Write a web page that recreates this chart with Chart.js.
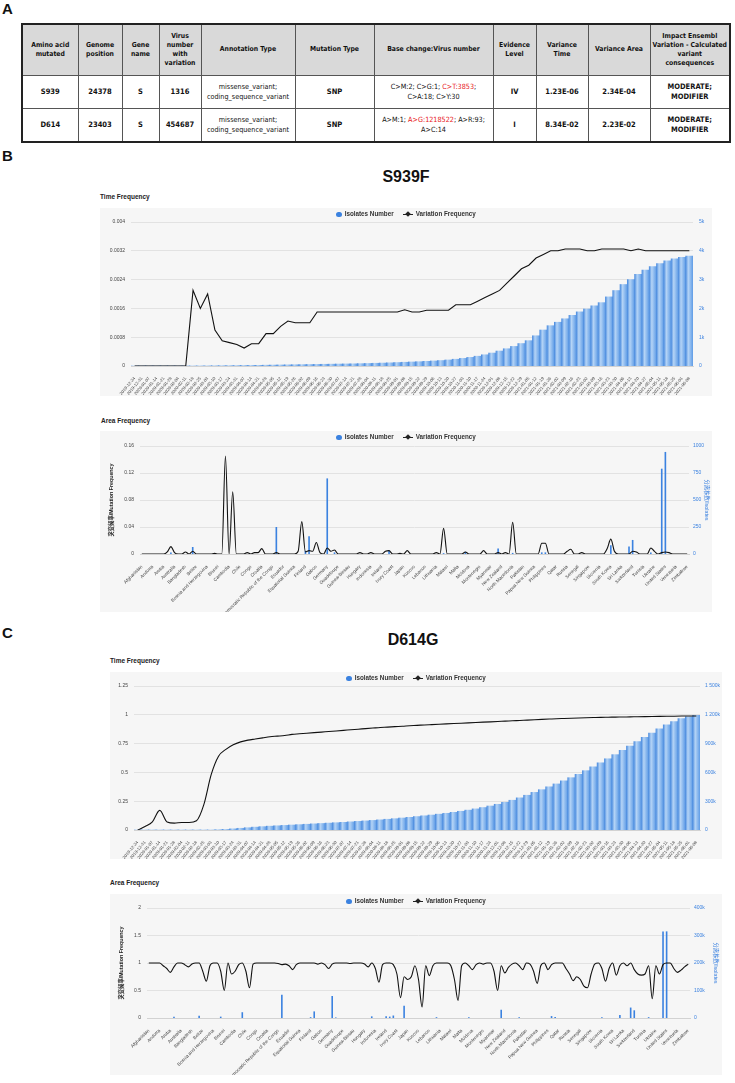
<!DOCTYPE html>
<html>
<head>
<meta charset="utf-8">
<script src="https://cdn.jsdelivr.net/npm/chart.js@4.4.1/dist/chart.umd.min.js"></script>
<style>
  html,body{margin:0;padding:0;background:#fff;}
  body{width:735px;height:1083px;position:relative;overflow:hidden;font-family:'Liberation Sans',Arial,sans-serif;}
  .panel{position:absolute;font-weight:bold;font-size:15px;color:#111;font-family:'Liberation Sans',Arial,sans-serif;}
  .mut{position:absolute;font-weight:bold;font-size:16px;color:#111;font-family:'Liberation Sans',Arial,sans-serif;text-align:center;width:200px;}
  .sub{position:absolute;font-weight:bold;font-size:6.5px;color:#222;}
  .box{position:absolute;background:#f6f6f6;}
  .legend{position:absolute;text-align:center;font-size:6.3px;font-weight:bold;color:#333;white-space:nowrap;}
  .legend .dot{display:inline-block;width:5.5px;height:5.5px;border-radius:50%;background:#3b82e0;vertical-align:middle;margin-right:3px;}
  .legend .ln{display:inline-block;width:10px;height:1.2px;background:#222;vertical-align:middle;margin:0 3px 0 9px;position:relative;}
  .legend .ln i{position:absolute;left:3px;top:-1.4px;width:4px;height:4px;background:#222;transform:rotate(45deg);}
  table.t{position:absolute;left:21px;top:23px;border-collapse:collapse;border:2px solid #222;table-layout:fixed;
    font-family:'Liberation Sans Narrow','DejaVu Sans Condensed','Liberation Sans',Arial,sans-serif;color:#111;}
  table.t td{border:1px solid #555;text-align:center;vertical-align:middle;padding:0;line-height:1.35;}
  table.t tr.h td{background:#d9d9d9;font-weight:bold;font-size:6.8px;height:50px;}
  table.t tr.r td{font-size:7.5px;height:32px;font-weight:bold;}
  table.t tr.r td.n{font-weight:normal;font-size:7.2px;}
  .red{color:#e8161b;}
</style>
</head>
<body>
<div class="panel" style="left:2px;top:0px;">A</div>
<table class="t">
  <colgroup>
    <col style="width:56px"><col style="width:44px"><col style="width:37px"><col style="width:42px"><col style="width:94px"><col style="width:79px"><col style="width:119px"><col style="width:43px"><col style="width:52px"><col style="width:62px"><col style="width:80px">
  </colgroup>
  <tr class="h">
    <td>Amino acid<br>mutated</td><td>Genome<br>position</td><td>Gene<br>name</td><td>Virus<br>number<br>with<br>variation</td><td>Annotation Type</td><td>Mutation Type</td><td>Base change:Virus number</td><td>Evidence<br>Level</td><td>Variance<br>Time</td><td>Variance Area</td><td>Impact Ensembl<br>Variation - Calculated<br>variant<br>consequences</td>
  </tr>
  <tr class="r">
    <td>S939</td><td>24378</td><td>S</td><td>1316</td><td class="n">missense_variant;<br>coding_sequence_variant</td><td>SNP</td><td class="n">C&gt;M:2; C&gt;G:1; <span class="red">C&gt;T:3853</span>;<br>C&gt;A:18; C&gt;Y:30</td><td>IV</td><td>1.23E-06</td><td>2.34E-04</td><td>MODERATE;<br>MODIFIER</td>
  </tr>
  <tr class="r">
    <td>D614</td><td>23403</td><td>S</td><td>454687</td><td class="n">missense_variant;<br>coding_sequence_variant</td><td>SNP</td><td class="n">A&gt;M:1; <span class="red">A&gt;G:1218522</span>; A&gt;R:93;<br>A&gt;C:14</td><td>I</td><td>8.34E-02</td><td>2.23E-02</td><td>MODERATE;<br>MODIFIER</td>
  </tr>
</table>

<div class="panel" style="left:2px;top:147px;">B</div>
<div class="mut" style="left:306px;top:168px;">S939F</div>
<div class="sub" style="left:100px;top:193px;">Time Frequency</div>
<div class="box" style="left:100px;top:208px;width:612px;height:188px;"><canvas id="c1" width="612" height="188"></canvas></div>
<div class="legend" style="left:100px;top:210px;width:612px;"><span class="dot"></span>Isolates Number<span class="ln"><i></i></span>Variation Frequency</div>

<div class="sub" style="left:101px;top:417px;">Area Frequency</div>
<div class="box" style="left:100px;top:431px;width:612px;height:181px;"><canvas id="c2" width="612" height="181"></canvas></div>
<div class="legend" style="left:100px;top:433px;width:612px;"><span class="dot"></span>Isolates Number<span class="ln"><i></i></span>Variation Frequency</div>

<div class="panel" style="left:2px;top:624px;">C</div>
<div class="mut" style="left:313px;top:631px;">D614G</div>
<div class="sub" style="left:110px;top:657px;">Time Frequency</div>
<div class="box" style="left:110px;top:672px;width:612px;height:187px;"><canvas id="c3" width="612" height="187"></canvas></div>
<div class="legend" style="left:110px;top:674px;width:612px;"><span class="dot"></span>Isolates Number<span class="ln"><i></i></span>Variation Frequency</div>

<div class="sub" style="left:110px;top:879px;">Area Frequency</div>
<div class="box" style="left:110px;top:894px;width:612px;height:181px;"><canvas id="c4" width="612" height="181"></canvas></div>
<div class="legend" style="left:110px;top:897px;width:612px;"><span class="dot"></span>Isolates Number<span class="ln"><i></i></span>Variation Frequency</div>

<script>
// ---------------- DATA ----------------
const timeLabels = [
 "2019-12-24","2019-12-31","2020-01-07","2020-01-14","2020-01-21","2020-01-28","2020-02-04","2020-02-11","2020-02-18","2020-02-25",
 "2020-03-03","2020-03-10","2020-03-17","2020-03-24","2020-03-31","2020-04-07","2020-04-14","2020-04-21","2020-04-28","2020-05-05",
 "2020-05-12","2020-05-19","2020-05-26","2020-06-02","2020-06-09","2020-06-16","2020-06-23","2020-06-30","2020-07-07","2020-07-14",
 "2020-07-21","2020-07-28","2020-08-04","2020-08-11","2020-08-18","2020-08-25","2020-09-01","2020-09-08","2020-09-15","2020-09-22",
 "2020-09-29","2020-10-06","2020-10-13","2020-10-20","2020-10-27","2020-11-03","2020-11-10","2020-11-17","2020-11-24","2020-12-01",
 "2020-12-08","2020-12-15","2020-12-22","2020-12-29","2021-01-05","2021-01-12","2021-01-19","2021-01-26","2021-02-02","2021-02-09",
 "2021-02-16","2021-02-23","2021-03-02","2021-03-09","2021-03-16","2021-03-23","2021-03-30","2021-04-06","2021-04-13","2021-04-20",
 "2021-04-27","2021-05-04","2021-05-11","2021-05-18","2021-05-25","2021-06-01","2021-06-08"
];

const s939TimeFreq = [
 0,0,0,0,0,0,0,0,0.0021,0.0016,
 0.002,0.001,0.0007,0.00065,0.0006,0.0005,0.00062,0.00062,0.0009,0.0009,
 0.0011,0.00125,0.0012,0.0012,0.0012,0.0015,0.0015,0.0015,0.0015,0.0015,
 0.0015,0.0015,0.0015,0.0015,0.0015,0.0015,0.0015,0.00156,0.0015,0.0015,
 0.00155,0.00155,0.00155,0.00155,0.0017,0.0017,0.0017,0.0018,0.0019,0.002,
 0.0021,0.0023,0.0025,0.0027,0.0028,0.003,0.0031,0.0032,0.0032,0.00325,
 0.00325,0.00325,0.0032,0.0032,0.00325,0.00325,0.00325,0.00325,0.0032,0.00325,
 0.0032,0.0032,0.0032,0.0032,0.0032,0.0032,0.0032
];
const s939TimeIsolates = [
 0,0,0,0,0,0,0,0,1,3,
 5,8,10,12,15,18,20,24,28,32,
 36,40,44,48,52,56,60,64,68,72,
 76,82,88,95,102,110,120,130,140,150,
 162,175,190,210,235,265,300,340,390,450,
 520,600,680,780,880,1050,1250,1400,1520,1640,
 1760,1880,1980,2090,2200,2400,2620,2830,3000,3180,
 3330,3450,3560,3650,3720,3770,3820
];

const d614TimeFreq = [
 0,0.03,0.07,0.17,0.07,0.06,0.065,0.065,0.08,0.22,
 0.48,0.64,0.7,0.74,0.765,0.78,0.79,0.8,0.81,0.815,
 0.82,0.83,0.835,0.84,0.845,0.85,0.855,0.86,0.865,0.87,
 0.875,0.88,0.885,0.89,0.893,0.897,0.9,0.905,0.908,0.912,
 0.915,0.918,0.921,0.924,0.927,0.93,0.933,0.936,0.939,0.942,
 0.945,0.948,0.951,0.954,0.957,0.96,0.963,0.966,0.968,0.97,
 0.972,0.974,0.976,0.978,0.979,0.98,0.981,0.982,0.983,0.984,
 0.985,0.986,0.987,0.988,0.989,0.99,0.99
];
const d614TimeIsolates = [
 0,0,0,0,0,0,0,0,0,0,
 0,3000,6000,12000,18000,24000,30000,35000,40000,44000,
 48000,52000,56000,60000,64000,68000,72000,76000,80000,85000,
 90000,95000,100000,106000,112000,118000,125000,132000,140000,148000,
 156000,165000,174000,184000,195000,207000,220000,234000,250000,268000,
 288000,310000,335000,362000,392000,420000,450000,480000,512000,545000,
 580000,618000,658000,700000,742000,785000,830000,875000,920000,965000,
 1010000,1055000,1095000,1130000,1160000,1180000,1195000
];

const countries = [
 "Afghanistan","Albania","Algeria","Andorra","Angola","Antigua and Barbuda","Aruba","Argentina","Armenia",
 "Australia","Austria","Bahrain","Bangladesh","Belarus","Belgium","Belize","Benin","Bolivia",
 "Bosnia and Herzegovina","Botswana","Brazil","Brunei","Bulgaria","Burkina Faso","Cambodia","Cameroon","Canada",
 "Chile","China","Colombia","Congo","Cook Islands","Costa Rica","Croatia","Cyprus","Czech Republic",
 "Democratic Republic of the Congo","Denmark","Dominican Republic","Ecuador","Egypt","El Salvador",
 "Equatorial Guinea","Estonia","Ethiopia","Finland","France","French Guiana","Gabon","Gambia","Georgia",
 "Germany","Ghana","Greece","Guadeloupe","Guam","Guatemala","Guinea-Bissau","Haiti","Honduras",
 "Hungary","Iceland","India","Indonesia","Iran","Iraq","Ireland","Israel","Italy",
 "Ivory Coast","Jamaica","Jersey","Japan","Jordan","Kazakhstan","Kosovo","Kuwait","Latvia",
 "Lebanon","Liberia","Libya","Lithuania","Luxembourg","Madagascar","Malawi","Malaysia","Maldives",
 "Malta","Mauritius","Mexico","Moldova","Monaco","Mongolia","Montenegro","Morocco","Mozambique",
 "Myanmar","Namibia","Nepal","New Zealand","Nicaragua","Nigeria","North Macedonia","Norway","Oman",
 "Pakistan","Palestine","Panama","Papua New Guinea","Paraguay","Peru","Philippines","Poland","Portugal",
 "Qatar","Reunion","Romania","Russia","Rwanda","Saudi Arabia","Senegal","Serbia","Sierra Leone",
 "Singapore","Sint Maarten","Slovakia","Slovenia","Somalia","South Africa","South Korea","South Sudan","Spain",
 "Sri Lanka","Suriname","Sweden","Switzerland","Taiwan","Thailand","Tunisia","Turkey","Uganda",
 "Ukraine","United Arab Emirates","United Kingdom","United States","Uruguay","Uzbekistan","Venezuela","Vietnam","Zambia",
 "Zimbabwe"
];

const s939AreaFreq = [
 0,0,0,0,0,0,0,0.003,0.011,0.002,
 0,0,0.003,0,0.004,0,0,0,0,0,
 0.001,0,0,0.145,0,0.092,0,0,0,0.002,
 0,0.002,0.002,0.008,0,0,0,0.002,0,0,
 0,0,0,0.004,0.048,0.003,0.005,0.004,0.017,0.002,
 0,0.009,0.004,0.006,0,0,0,0,0,0,
 0.002,0,0,0.002,0,0,0,0.004,0.005,0,
 0,0.001,0,0.005,0,0,0,0,0,0,
 0,0.002,0,0.038,0,0,0,0,0,0.003,
 0,0,0,0,0.005,0,0,0,0.002,0,
 0.002,0,0.047,0,0,0,0,0,0,0,
 0.016,0.016,0,0,0,0,0,0.004,0.007,0,
 0,0.002,0,0,0,0,0,0,0.008,0.022,
 0.004,0,0,0,0,0.004,0.003,0,0,0,
 0.009,0.004,0,0.002,0.003,0.002,0,0,0,0,
 0
];
const s939AreaIsolates = [
 0,0,0,0,0,0,0,0,15,0,
 0,0,0,0,65,0,0,0,0,0,
 0,0,0,0,0,0,0,0,0,0,
 0,0,0,0,0,0,0,250,0,0,
 0,0,0,0,0,30,165,0,0,0,
 0,700,0,15,0,0,0,0,0,0,
 0,0,0,0,0,0,0,0,30,0,
 0,0,0,0,0,0,0,0,0,0,
 0,0,0,8,0,0,0,0,0,20,
 0,0,0,0,0,0,0,0,50,0,
 0,0,10,0,0,0,0,0,0,0,
 15,15,0,0,0,0,0,0,0,0,
 0,0,0,0,0,0,0,0,0,80,
 0,0,0,0,70,130,0,0,0,0,
 15,0,0,790,945,0,0,0,0,0,
 0
];

const d614AreaFreq = [
 1,1,1,1,0.95,0.9,0.83,0.93,1,1,
 0.97,0.93,0.98,1,1,0.85,0.67,0.95,1,1,
 0.85,0.5,1,0.8,0.85,0.97,1,0.85,0.55,0.98,
 1,1,1,1,1,1,0.99,0.97,0.98,0.95,
 0.88,0.97,1,1,1,1,1,0.98,1,0.97,
 0.9,0.98,1,1,1,1,0.99,1,1,1,
 0.98,0.93,1,0.9,0.65,0.97,1,1,0.97,0.8,
 0.37,0.75,0.7,0.75,0.95,0.7,0.2,0.95,0.77,0.95,
 1,1,1,1,0.95,0.7,0.32,0.95,1,0.95,
 0.88,0.97,1,0.98,1,1,0.85,0.5,0.95,0.82,
 0.92,0.98,1,0.95,0.88,1,0.98,0.85,0.63,0.95,
 1,0.88,0.97,1,1,1,0.9,0.8,0.68,0.75,
 0.7,0.58,0.55,0.8,0.98,1,0.9,0.67,0.9,1,
 0.78,0.95,1,0.95,1,0.88,0.8,0.78,0.8,0.95,
 0.35,0.95,0.8,0.97,1,1,0.9,0.83,0.87,0.93,
 0.98
];
const d614AreaIsolates = [
 0,0,0,0,0,0,0,5000,0,0,
 0,0,0,0,8000,0,0,0,0,0,
 5000,0,0,0,0,0,21000,0,0,0,
 0,0,0,0,0,0,0,85000,0,0,
 0,0,0,0,0,3000,24000,0,0,0,
 0,80000,2000,0,0,0,0,0,0,0,
 0,0,6000,0,0,0,6000,5000,9000,0,
 0,45000,0,0,0,0,0,0,0,0,
 3000,0,0,0,0,0,0,0,0,3000,
 0,0,0,0,0,0,0,0,30000,0,
 0,0,0,3000,0,0,0,0,0,0,
 0,0,7000,4000,0,0,0,0,0,0,
 0,0,0,0,0,0,3000,0,0,0,
 0,11000,0,0,38000,28000,0,0,0,3000,
 0,0,0,315000,315000,0,0,0,0,0,
 0
];

// ---------------- CHARTS ----------------
Chart.defaults.font.family = "'Liberation Sans', Arial, 'Noto Sans CJK SC', sans-serif";
Chart.defaults.color = '#555';

const BLUE = '#3b82e0';
function numFmt(v){ return String(+(+v).toFixed(6)); }
function kFmt(v){
  if (v === 0) return '0';
  const k = v / 1000;
  if (k >= 1000) return Math.floor(k/1000) + ' ' + String(k % 1000).padStart(3,'0') + 'k';
  return k + 'k';
}

function bandFill(c){
  const ch = c.chart, xs = ch.scales && ch.scales.x;
  if (c.type !== 'data' || !xs || !ch.chartArea) return '#6fa8ea';
  const n = xs.getLabels().length;
  const w = (xs.right - xs.left) / n;
  const x = xs.getPixelForValue(c.dataIndex);
  const g = ch.ctx.createLinearGradient(x - w/2, 0, x + w/2, 0);
  g.addColorStop(0, '#4d8ddf');
  g.addColorStop(0.35, '#b5d4f6');
  g.addColorStop(1, '#5f9ce6');
  return g;
}

function makeChart(id, o){
  const m = o.m;
  return new Chart(document.getElementById(id), {
    data: {
      labels: o.labels,
      datasets: [
        { type:'bar', label:'Isolates Number', data:o.isolates, yAxisID:'y1', order:2,
          backgroundColor: o.band ? bandFill : '#3b82e0',
          borderWidth:0, barPercentage:o.barPct, categoryPercentage:1 },
        { type:'line', label:'Variation Frequency', data:o.freq, yAxisID:'y', order:1,
          borderColor:'#111', borderWidth:1.1, pointRadius:0, fill:false,
          tension:o.tension, cubicInterpolationMode:o.mono ? 'monotone' : 'default' }
      ]
    },
    options: {
      responsive:false, animation:false, devicePixelRatio:1,
      layout:{ padding:{ left:m.pl, right:m.pr, top:m.t, bottom:0 } },
      plugins:{ legend:{ display:false }, tooltip:{ enabled:false } },
      scales:{
        x:{
          offset:true,
          grid:{ display:false },
          border:{ color:'#d2d2d2' },
          ticks:{ autoSkip:false, minRotation:o.rot, maxRotation:o.rot, padding:2,
            font:{ size:o.xFont }, color:'#444',
            callback:function(v,i){ return (i % o.every === 0) ? this.getLabelForValue(v) : ''; } },
          afterFit:function(s){ s.height = m.b; }
        },
        y:{
          position:'left', min:0, max:o.yMax,
          grid:{ color:'#e2e2e2', drawTicks:false },
          border:{ display:false },
          ticks:{ stepSize:o.yStep, padding:6, font:{ size:5 }, color:'#444', callback:numFmt },
          title:{ display:!!o.yTitle, text:o.yTitle || '', color:'#222', font:{ size:5.3, weight:'bold' }, padding:{top:0,bottom:0} },
          afterFit:function(s){ s.width = m.l - m.pl; }
        },
        y1:{
          position:'right', min:0, max:o.y1Max,
          grid:{ display:false, drawTicks:false },
          border:{ display:false },
          ticks:{ stepSize:o.y1Step, padding:o.y1Pad, font:{ size:5 }, color:BLUE, callback:o.y1Fmt },
          title:{ display:!!o.y1Title, text:o.y1Title || '', color:BLUE, font:{ size:5.3 }, padding:{top:0,bottom:0} },
          afterFit:function(s){ s.width = m.r - m.pr; }
        }
      }
    }
  });
}

makeChart('c1', {
  labels:timeLabels, isolates:s939TimeIsolates, freq:s939TimeFreq,
  yMax:0.004, yStep:0.0008, y1Max:5000, y1Step:1000, y1Fmt:kFmt, y1Pad:6,
  m:{ l:31, r:19, pl:0, pr:0, t:14, b:30 }, rot:50, xFont:4.3, every:1,
  band:true, barPct:1, tension:0, mono:false
});

makeChart('c2', {
  labels:countries, isolates:s939AreaIsolates, freq:s939AreaFreq,
  yMax:0.16, yStep:0.04, y1Max:1000, y1Step:250, y1Fmt:numFmt, y1Pad:4,
  yTitle:'突变频率/Mutation Frequency', y1Title:'分离株数/Isolates',
  m:{ l:40, r:23, pl:8, pr:2, t:15, b:58 }, rot:45, xFont:4.6, every:3,
  band:false, barPct:0.45, tension:0.4, mono:true
});

makeChart('c3', {
  labels:timeLabels, isolates:d614TimeIsolates, freq:d614TimeFreq,
  yMax:1.25, yStep:0.25, y1Max:1500000, y1Step:300000, y1Fmt:kFmt, y1Pad:5,
  m:{ l:24, r:22, pl:0, pr:0, t:14, b:29 }, rot:50, xFont:4.3, every:1,
  band:true, barPct:1, tension:0.3, mono:true
});

makeChart('c4', {
  labels:countries, isolates:d614AreaIsolates, freq:d614AreaFreq,
  yMax:2, yStep:0.5, y1Max:400000, y1Step:100000, y1Fmt:kFmt, y1Pad:4,
  yTitle:'突变频率/Mutation Frequency', y1Title:'分离株数/Isolates',
  m:{ l:37, r:32, pl:8, pr:3, t:14, b:57 }, rot:45, xFont:4.6, every:3,
  band:false, barPct:0.45, tension:0.4, mono:true
});
</script>
</body>
</html>
